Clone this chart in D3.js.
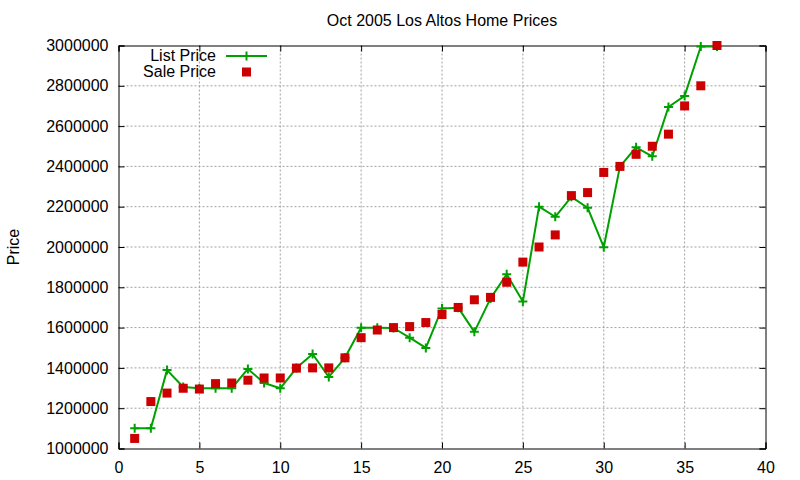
<!DOCTYPE html>
<html>
<head>
<meta charset="utf-8">
<script src="https://cdn.jsdelivr.net/npm/d3@7"></script>
<style>
  body { margin: 0; background: #fff; }
  svg { display: block; font-family: "Liberation Sans", Arial, sans-serif; }
</style>
</head>
<body>
<div id="chart"></div>
<script>
const title = "Oct 2005 Los Altos Home Prices"
const yLabel = "Price"
const seriesNames = ["List Price", "Sale Price"]
const homes = [1, 2, 3, 4, 5, 6, 7, 8, 9, 10, 11, 12, 13, 14, 15, 16, 17, 18, 19, 20,
    21, 22, 23, 24, 25, 26, 27, 28, 29, 30, 31, 32, 33, 34, 35, 36, 37]
const listPrice = [1100000, 1100000, 1389000, 1305000, 1299000, 1299000, 1299000, 1395000, 1325000, 1299000,
    1399000, 1469000, 1355000, 1450000, 1599000, 1599000, 1598000, 1550000, 1499000, 1695000,
    1699000, 1579000, 1745000, 1865000, 1729000, 2200000, 2150000, 2249000, 2195000, 1999000,
    2399000, 2495000, 2450000, 2695000, 2750000, 2995000, 2995000]
const salePrice = [1050000, 1233000, 1275000, 1299000, 1295000, 1322000, 1325000, 1339000, 1350000, 1350000,
    1399000, 1400000, 1400000, 1450000, 1550000, 1588000, 1600000, 1605000, 1625000, 1665000,
    1700000, 1738000, 1750000, 1825000, 1925000, 2000000, 2060000, 2255000, 2270000, 2370000,
    2400000, 2460000, 2500000, 2560000, 2700000, 2800000, 3000000]
const xTicks = [0, 5, 10, 15, 20, 25, 30, 35, 40]
const yTicks = [1000000, 1200000, 1400000, 1600000, 1800000, 2000000, 2200000, 2400000, 2600000, 2800000, 3000000]

const width = 800, height = 480
const green = "#00a000", red = "#cc0000"
const mLeft = 118.5, mRight = 765.5, mTop = 45.5, mBottom = 448.5

const x = d3.scaleLinear([0, 40], [mLeft, mRight])
const y = d3.scaleLinear([1000000, 3000000], [mBottom, mTop])

const svg = d3.select("#chart").append("svg")
    .attr("width", width)
    .attr("height", height)
    .attr("font-size", 16)

// grid
svg.append("g")
    .attr("stroke", "#a0a0a0")
    .attr("stroke-dasharray", "2,2")
    .selectAll("line")
    .data(xTicks.slice(1, -1))
    .join("line")
    .attr("x1", d => x(d)).attr("x2", d => x(d))
    .attr("y1", mTop).attr("y2", mBottom)

svg.append("g")
    .attr("stroke", "#a0a0a0")
    .attr("stroke-dasharray", "2,2")
    .selectAll("line")
    .data(yTicks.slice(1, -1))
    .join("line")
    .attr("x1", mLeft).attr("x2", mRight)
    .attr("y1", d => y(d)).attr("y2", d => y(d))

// axes, gnuplot style: inward ticks, mirrored
const xAxis = d3.axisBottom(x).tickValues(xTicks).tickSize(-6).tickPadding(13)
const yAxis = d3.axisLeft(y).tickValues(yTicks).tickSize(-6).tickPadding(10).tickFormat(d3.format("d"))

svg.append("g").attr("transform", `translate(0,${mBottom})`).call(xAxis)
svg.append("g").attr("transform", `translate(${mLeft},0)`).call(yAxis)
svg.append("g").attr("transform", `translate(0,${mTop})`)
    .call(d3.axisTop(x).tickValues(xTicks).tickSize(-6).tickFormat(""))
svg.append("g").attr("transform", `translate(${mRight},0)`)
    .call(d3.axisRight(y).tickValues(yTicks).tickSize(-6).tickFormat(""))

svg.selectAll(".domain").attr("stroke", "#000")
svg.selectAll(".tick line").attr("stroke", "#000")
svg.selectAll(".tick text").attr("font-size", 16).attr("font-family", "Liberation Sans, Arial, sans-serif").attr("fill", "#000")

// titles
svg.append("text")
    .attr("x", (mLeft + mRight) / 2)
    .attr("y", 26)
    .attr("text-anchor", "middle")
    .text(title)

svg.append("text")
    .attr("transform", `translate(19,${(mTop + mBottom) / 2}) rotate(-90)`)
    .attr("text-anchor", "middle")
    .text(yLabel)

// list price line
const data = homes.map((h, i) => ({ h, list: listPrice[i], sale: salePrice[i] }))
const cross = (cx, cy, s = 4.5) => `M${cx - s},${cy}H${cx + s}M${cx},${cy - s}V${cy + s}`

svg.append("path")
    .datum(data)
    .attr("fill", "none")
    .attr("stroke", green)
    .attr("stroke-width", 2)
    .attr("stroke-linejoin", "round")
    .attr("d", d3.line(d => x(d.h), d => y(d.list)))

svg.append("path")
    .attr("fill", "none")
    .attr("stroke", green)
    .attr("stroke-width", 2)
    .attr("d", data.map(d => cross(x(d.h), y(d.list))).join(""))

// sale price points
svg.append("g")
    .attr("fill", red)
    .selectAll("rect")
    .data(data)
    .join("rect")
    .attr("x", d => x(d.h) - 4.5)
    .attr("y", d => y(d.sale) - 4.5)
    .attr("width", 9)
    .attr("height", 9)

// legend
const legend = svg.append("g")
legend.append("text").attr("x", 216).attr("y", 61).attr("text-anchor", "end").text(seriesNames[0])
legend.append("text").attr("x", 216).attr("y", 77).attr("text-anchor", "end").text(seriesNames[1])
legend.append("line")
    .attr("x1", 226).attr("x2", 267).attr("y1", 56).attr("y2", 56)
    .attr("stroke", green).attr("stroke-width", 2)
legend.append("path").attr("d", cross(246.5, 56))
    .attr("stroke", green).attr("stroke-width", 2)
legend.append("rect").attr("x", 242).attr("y", 67.5).attr("width", 9).attr("height", 9).attr("fill", red)
</script>
</body>
</html>
